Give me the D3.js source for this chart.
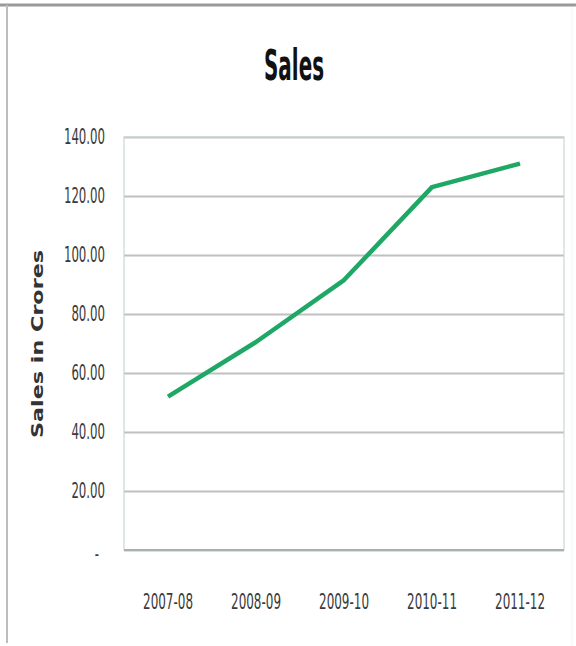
<!DOCTYPE html>
<html>
<head>
<meta charset="utf-8">
<script src="https://cdn.jsdelivr.net/npm/d3@7"></script>
<style>
  body { margin: 0; background: #fff; }
</style>
</head>
<body>
<div class="chart"></div>
<script>
// Data
const years = ['2007-08', '2008-09', '2009-10', '2010-11', '2011-12'];
const sales = [52, 70.5, 91.5, 123, 131];
const yTicks = [0, 20, 40, 60, 80, 100, 120, 140];

const w = 576;
const h = 646;
const plot = { left: 124, right: 564, top: 137, bottom: 550 };
const font = '"DejaVu Sans", sans-serif';

// squeeze tick text horizontally around the tick origin (reference face is very narrow)
function squeeze(sel, k) {
  sel.each(function () {
    const t = d3.select(this);
    const x = +t.attr('x') || 0;
    t.attr('x', x / k).attr('transform', `scale(${k},1)`);
  });
}

const svg = d3
  .select('.chart')
  .append('svg')
  .attr('width', w)
  .attr('height', h);

// Outer frame
svg.append('line')
  .attr('x1', 0).attr('x2', w).attr('y1', 5).attr('y2', 5)
  .attr('stroke', '#9a9a9a').attr('stroke-width', 3);
svg.append('line')
  .attr('x1', 7).attr('x2', 7).attr('y1', 5).attr('y2', 643)
  .attr('stroke', '#bdbdbd').attr('stroke-width', 2);
svg.append('line')
  .attr('x1', 572).attr('x2', 572).attr('y1', 7).attr('y2', 646)
  .attr('stroke', '#eef4f4').attr('stroke-width', 1);

// Scales
const xScale = d3
  .scaleBand()
  .domain(years)
  .range([plot.left, plot.right]);

const yScale = d3
  .scaleLinear()
  .domain([0, 140])
  .range([plot.bottom, plot.top]);

// Gridlines
const yGrid = d3
  .axisLeft(yScale)
  .tickValues(yTicks)
  .tickSize(-(plot.right - plot.left))
  .tickFormat('');

const gridG = svg
  .append('g')
  .attr('transform', `translate(${plot.left},0)`)
  .call(yGrid);
gridG.select('.domain').remove();
gridG.selectAll('.tick line')
  .attr('stroke', '#c0c0c0')
  .attr('stroke-width', 1.8);

// Plot border
svg.append('rect')
  .attr('x', plot.left)
  .attr('y', plot.top)
  .attr('width', plot.right - plot.left)
  .attr('height', plot.bottom - plot.top)
  .attr('fill', 'none')
  .attr('stroke', '#c9d6d6')
  .attr('stroke-width', 1.2);
svg.append('line')
  .attr('x1', plot.left).attr('x2', plot.right)
  .attr('y1', plot.bottom).attr('y2', plot.bottom)
  .attr('stroke', '#a8b0b0').attr('stroke-width', 1.8);

// Y tick labels
const yAxis = d3
  .axisLeft(yScale)
  .tickValues(yTicks)
  .tickSize(0)
  .tickPadding(19)
  .tickFormat((d) => (d === 0 ? '-' : d.toFixed(2)));

const yAxisG = svg
  .append('g')
  .attr('transform', `translate(${plot.left},0)`)
  .call(yAxis);
yAxisG.select('.domain').remove();
yAxisG.selectAll('.tick')
  .filter((d) => d === 0)
  .select('text')
  .attr('x', -25)
  .attr('dy', '0.5em');
yAxisG.selectAll('.tick text')
  .style('font-family', font)
  .style('font-size', '21px')
  .style('fill', '#3a3a3a')
  .call(squeeze, 0.56);

// X tick labels
const xAxis = d3
  .axisBottom(xScale)
  .tickSize(0)
  .tickPadding(44);

const xAxisG = svg
  .append('g')
  .attr('transform', `translate(0,${plot.bottom})`)
  .call(xAxis);
xAxisG.select('.domain').remove();
xAxisG.selectAll('.tick text')
  .style('font-family', font)
  .style('font-size', '21px')
  .style('fill', '#3a3a3a')
  .call(squeeze, 0.57);

// Line
const line = d3
  .line()
  .x((d, i) => xScale(years[i]) + xScale.bandwidth() / 2)
  .y((d) => yScale(d));

svg.append('path')
  .datum(sales)
  .attr('d', line)
  .attr('fill', 'none')
  .attr('stroke', '#1fa865')
  .attr('stroke-width', 4.5)
  .attr('stroke-linejoin', 'round')
  .attr('stroke-linecap', 'butt');

// Title
svg.append('text')
  .attr('x', 294)
  .attr('y', 80)
  .attr('text-anchor', 'middle')
  .attr('textLength', 60)
  .attr('lengthAdjust', 'spacingAndGlyphs')
  .style('font-family', font)
  .style('font-weight', 'bold')
  .style('font-size', '43px')
  .style('fill', '#111')
  .text('Sales');

// Y axis label
svg.append('text')
  .attr('transform', 'translate(43,344) rotate(-90)')
  .attr('text-anchor', 'middle')
  .attr('textLength', 188)
  .attr('lengthAdjust', 'spacingAndGlyphs')
  .style('font-family', font)
  .style('font-weight', 'bold')
  .style('font-size', '16px')
  .style('fill', '#333')
  .text('Sales in Crores');
</script>
</body>
</html>
